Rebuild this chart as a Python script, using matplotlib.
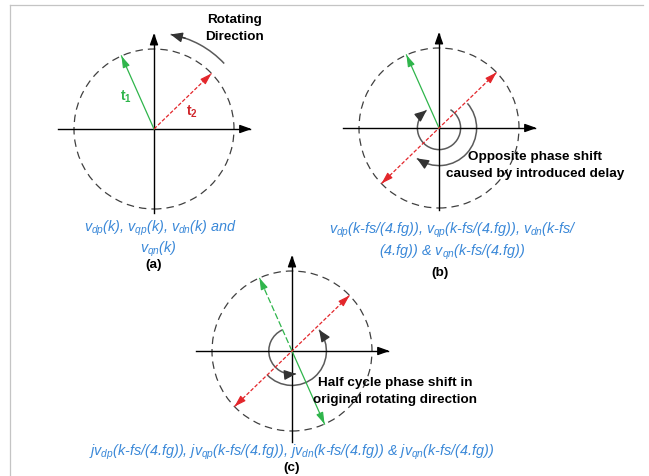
import numpy as np
import matplotlib.pyplot as plt
from matplotlib.patches import Circle, Arc
from matplotlib.lines import Line2D

plt.rcParams['font.family'] = ['Liberation Sans', 'DejaVu Sans']
plt.rcParams['mathtext.fontset'] = 'custom'
plt.rcParams['mathtext.rm'] = 'Liberation Sans:italic'
plt.rcParams['mathtext.it'] = 'Liberation Sans:italic'
plt.rcParams['mathtext.bf'] = 'Liberation Sans:bold'

W, H = 649, 476
GREEN = '#2fb54b'
RED = '#e3262b'
BLUE = '#3a88d8'
ARCGRAY = '#5a5a5a'

# %%
# phasor angles in degrees (unit magnitude)
t1_angle = 114
t2_angle = 44
t1_flipped = t1_angle + 180
t2_flipped = t2_angle + 180

# phase shift arcs: (radius, start angle, end angle), arrow at the end
arc_rotating = (1.2, 43, 80)
arcs_b = [(0.27, 58, -235), (0.47, 41, -126)]
arcs_c = [(0.29, 115, 280), (0.43, 224, 398)]

# captions
cap_a = [r"$v_{dp}$(k), $v_{qp}$(k), $v_{dn}$(k) and", r"$v_{qn}$(k)"]
cap_b = [r"$v_{dp}$(k-fs/(4.fg)), $v_{qp}$(k-fs/(4.fg)), $v_{dn}$(k-fs/",
         r"(4.fg)) & $v_{qn}$(k-fs/(4.fg))"]
cap_c = [r"j$v_{dp}$(k-fs/(4.fg)), j$v_{qp}$(k-fs/(4.fg)), "
         r"j$v_{dn}$(k-fs/(4.fg)) & j$v_{qn}$(k-fs/(4.fg))"]

# panel centres in pixels, radius 80 px -> 1 unit
R_PX = 80
HALF = 130


def px(x, y):
    return x / W, 1 - y / H


def panel(fig, cx, cy, ybot):
    ax = fig.add_axes([(cx - HALF) / W, (H - cy - HALF) / H, 2 * HALF / W, 2 * HALF / H])
    lim = HALF / R_PX
    ax.set_xlim(-lim, lim)
    ax.set_ylim(-lim, lim)
    ax.axis('off')
    ax.add_patch(Circle((0, 0), 1, fill=False, ec='#404040', lw=0.9,
                        ls=(0, (6, 4))))
    # axes with arrow tips
    ax.plot([-1.2, 1.2], [0, 0], color='k', lw=1.0)
    ax.plot([0, 0], [ybot, 1.18], color='k', lw=1.0)
    tip = dict(arrowstyle='-|>,head_length=0.7,head_width=0.25', color='k',
               lw=1.0, shrinkA=0, shrinkB=0, mutation_scale=10)
    ax.annotate('', xy=(1.22, 0), xytext=(1.1, 0), arrowprops=tip)
    ax.annotate('', xy=(0, 1.2), xytext=(0, 1.08), arrowprops=tip)
    return ax


def unit(ang, r=1.0):
    a = np.deg2rad(ang)
    return r * np.cos(a), r * np.sin(a)


def head(ax, ang, color, r=1.0):
    x1, y1 = unit(ang, r)
    x0, y0 = unit(ang, r - 0.1)
    ax.annotate('', xy=(x1, y1), xytext=(x0, y0),
                arrowprops=dict(arrowstyle='-|>,head_length=0.7,head_width=0.22',
                                color=color, lw=0.8, shrinkA=0, shrinkB=0,
                                mutation_scale=10))


def vector(ax, ang, color, ls='-', both=False):
    x1, y1 = unit(ang)
    if both:
        x0, y0 = unit(ang + 180)
    else:
        x0, y0 = 0, 0
    ax.plot([x0, x1], [y0, y1], color=color, lw=0.9, ls=ls)
    head(ax, ang, color)
    if both:
        head(ax, ang + 180, color)


def shift_arc(ax, r, a0, a1):
    lo, hi = min(a0, a1), max(a0, a1)
    ax.add_patch(Arc((0, 0), 2 * r, 2 * r, theta1=lo, theta2=hi,
                     color=ARCGRAY, lw=1.1))
    back = 9 if a1 > a0 else -9
    x1, y1 = unit(a1, r)
    x0, y0 = unit(a1 - back, r)
    ax.annotate('', xy=(x1, y1), xytext=(x0, y0),
                arrowprops=dict(arrowstyle='-|>,head_length=0.7,head_width=0.3',
                                color='#333333', lw=1.0, shrinkA=0, shrinkB=0,
                                mutation_scale=10))


fig = plt.figure(figsize=(W / 100, H / 100), dpi=100)

# %%
# (a) original phasors
ax_a = panel(fig, 154, 129, -1.05)
vector(ax_a, t1_angle, GREEN)
vector(ax_a, t2_angle, RED, ls=(0, (3, 1.5)))
shift_arc(ax_a, *arc_rotating)
ax_a.text(-0.35, 0.40, r"t$_\mathbf{1}$", color=GREEN, fontsize=10,
          fontweight='bold', ha='center', va='center')
ax_a.text(0.48, 0.21, r"t$_\mathbf{2}$", color='#d0262b', fontsize=10,
          fontweight='bold', ha='center', va='center')

# (b) delayed phasors
ax_b = panel(fig, 439, 128, -1.03)
vector(ax_b, t1_angle, GREEN)
vector(ax_b, t2_angle, RED, ls=(0, (3, 1.5)), both=True)
for a in arcs_b:
    shift_arc(ax_b, *a)

# (c) delayed phasors multiplied by j
ax_c = panel(fig, 292, 351, -1.14)
x1, y1 = unit(t1_angle)
ax_c.plot([0, x1], [0, y1], color=GREEN, lw=0.9, ls=(0, (5, 2)))
head(ax_c, t1_angle, GREEN)
vector(ax_c, t1_flipped, GREEN)
vector(ax_c, t2_angle, RED, ls=(0, (3, 1.5)), both=True)
for a in arcs_c:
    shift_arc(ax_c, *a)

# %%
# labels
bold = dict(fontsize=9.7, fontweight='bold', color='k', ha='center', va='center')
blue = dict(fontsize=10.4, fontstyle='italic', color=BLUE, ha='center', va='center')

fig.text(*px(234, 20), "Rotating", **bold)
fig.text(*px(234, 37), "Direction", **bold)
fig.text(*px(535, 157), "Opposite phase shift", **bold)
fig.text(*px(535, 174), "caused by introduced delay", **bold)
fig.text(*px(395, 383), "Half cycle phase shift in", **bold)
fig.text(*px(395, 400), "original rotating direction", **bold)

fig.text(*px(160, 228), cap_a[0], **blue)
fig.text(*px(158, 249), cap_a[1], **blue)
fig.text(*px(453, 230), cap_b[0], **blue)
fig.text(*px(452, 252), cap_b[1], **blue)
fig.text(*px(292, 452), cap_c[0], **blue)

fig.text(*px(154, 265), "(a)", **bold)
fig.text(*px(440, 273), "(b)", **bold)
fig.text(*px(292, 468), "(c)", **bold)

# page frame
fig.add_artist(Line2D([10 / W, 643 / W], [1 - 5 / H] * 2, color='#c4c4c4',
                      lw=0.9, transform=fig.transFigure))
fig.add_artist(Line2D([10 / W, 10 / W], [1 - 5 / H, 0], color='#c4c4c4',
                      lw=0.9, transform=fig.transFigure))

fig.savefig('out.png', dpi=100)
